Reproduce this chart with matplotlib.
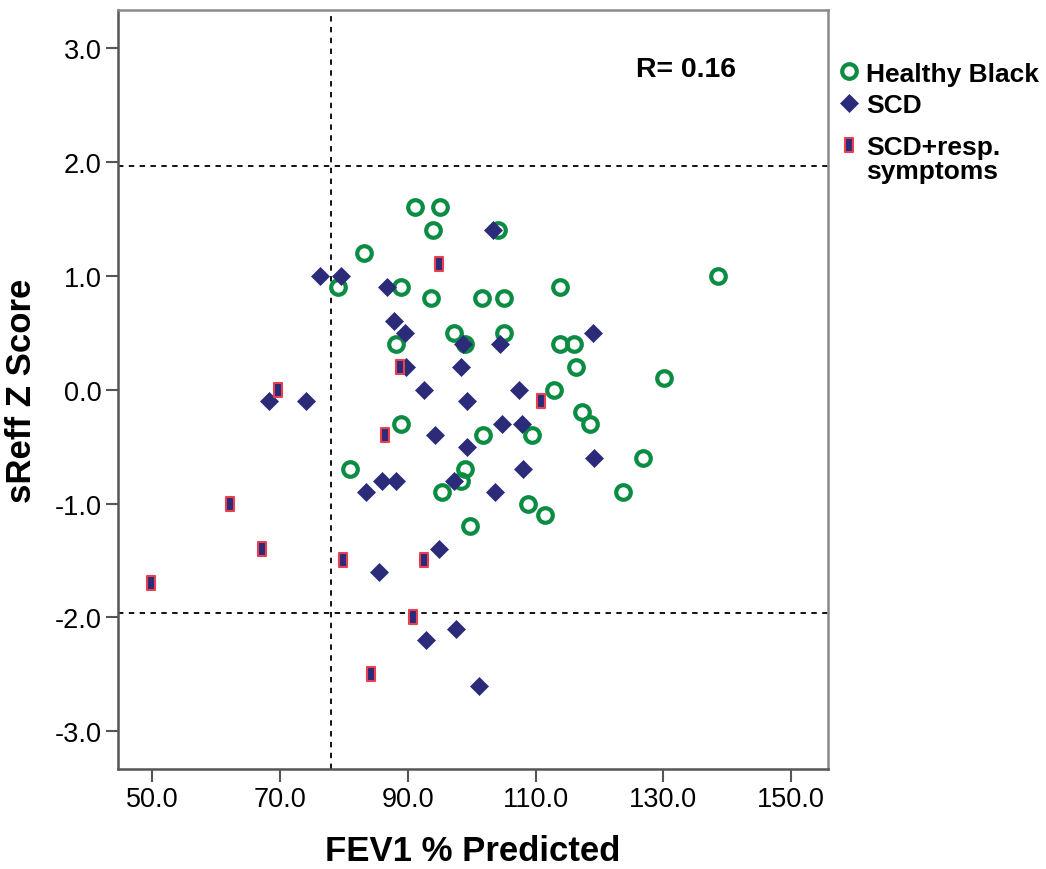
import numpy as np
import matplotlib
matplotlib.use('Agg')
import matplotlib.pyplot as plt
from matplotlib.path import Path
from matplotlib.lines import Line2D

plt.rcParams['font.family'] = ['Liberation Sans', 'DejaVu Sans']

# Healthy Black
hb_fev1 = [91.1, 95.0, 93.9, 104.1, 83.1, 138.6, 79.0, 89.0, 113.8, 93.6,
           101.6, 105.0, 97.3, 105.0, 88.2, 98.9, 113.8, 116.0, 116.3, 130.1,
           112.9, 117.2, 118.5, 88.9, 101.7, 109.4, 126.8, 81.0, 98.9, 98.3,
           95.3, 123.7, 108.8, 111.4, 99.8]
hb_z = [1.6, 1.6, 1.4, 1.4, 1.2, 1.0, 0.9, 0.9, 0.9, 0.8,
        0.8, 0.8, 0.5, 0.5, 0.4, 0.4, 0.4, 0.4, 0.2, 0.1,
        0.0, -0.2, -0.3, -0.3, -0.4, -0.4, -0.6, -0.7, -0.7, -0.8,
        -0.9, -0.9, -1.0, -1.1, -1.2]

# SCD
scd_fev1 = [76.3, 79.5, 86.8, 103.3, 87.9, 89.5, 98.6, 104.5, 119.0, 89.7,
            98.3, 92.5, 107.4, 68.2, 74.1, 99.2, 94.2, 104.7, 107.8, 99.2,
            119.1, 108.0, 83.4, 85.9, 88.2, 97.2, 103.6, 94.8, 85.4, 97.5,
            92.9, 101.1]
scd_z = [1.0, 1.0, 0.9, 1.4, 0.6, 0.5, 0.4, 0.4, 0.5, 0.2,
         0.2, 0.0, 0.0, -0.1, -0.1, -0.1, -0.4, -0.3, -0.3, -0.5,
         -0.6, -0.7, -0.9, -0.8, -0.8, -0.8, -0.9, -1.4, -1.6, -2.1,
         -2.2, -2.6]

# SCD + respiratory symptoms
resp_fev1 = [94.8, 88.7, 69.7, 110.8, 86.4, 62.2, 67.1, 49.8, 79.9, 92.5, 90.8, 84.2]
resp_z = [1.1, 0.2, 0.0, -0.1, -0.4, -1.0, -1.4, -1.7, -1.5, -1.5, -2.0, -2.5]

xticks = [50, 70, 90, 110, 130, 150]
yticks = [-3, -2, -1, 0, 1, 2, 3]

green = '#0a8c43'
navy = '#2b2b7a'
red = '#e8404f'

bar = Path([(-0.3, -0.5), (0.3, -0.5), (0.3, 0.5), (-0.3, 0.5), (-0.3, -0.5)],
           [Path.MOVETO, Path.LINETO, Path.LINETO, Path.LINETO, Path.CLOSEPOLY])

fig = plt.figure(figsize=(10.46, 8.70), dpi=100)
ax = fig.add_axes([0.1128, 0.1149, 0.6788, 0.8724])

ax.axvline(78, color='black', lw=1.3, ls=(0, (3, 3)), zorder=1)
ax.axhline(1.96, color='black', lw=1.3, ls=(0, (3, 3)), zorder=1)
ax.axhline(-1.96, color='black', lw=1.3, ls=(0, (3, 3)), zorder=1)

h1, = ax.plot(hb_fev1, hb_z, 'o', ls='none', ms=10.5, mfc='none', mec=green, mew=3, label='Healthy Black', zorder=3)
h2, = ax.plot(scd_fev1, scd_z, 'D', ls='none', ms=9.5, mfc=navy, mec=navy, mew=0.5, label='SCD', zorder=4)
h3, = ax.plot(resp_fev1, resp_z, marker=bar, ls='none', ms=10.5, mfc=navy, mec=red, mew=1.5,
              label='SCD+resp.', zorder=5)

ax.set_xlim(44.6, 155.8)
ax.set_ylim(-3.33, 3.33)
ax.set_xticks(xticks)
ax.set_xticklabels([f'{v:.1f}' for v in xticks])
ax.set_yticks(yticks)
ax.set_yticklabels([f'{v:.1f}' for v in yticks])
ax.tick_params(direction='out', length=9, width=1.5, color='#555555', labelsize=19.5, pad=3)

for s in ['left', 'bottom']:
    ax.spines[s].set_color('#555555')
    ax.spines[s].set_linewidth(1.8)
for s in ['right', 'top']:
    ax.spines[s].set_color('#8a8a8a')
    ax.spines[s].set_linewidth(1.8)

ax.set_xlabel('FEV1 % Predicted', fontsize=25, fontweight='bold', labelpad=16)
ax.set_ylabel('sReff Z Score', fontsize=25, fontweight='bold', labelpad=12)

ax.text(0.73, 0.922, 'R= 0.16', transform=ax.transAxes, fontsize=20.5, fontweight='bold',
        va='center', ha='left')

prop = {'weight': 'bold', 'size': 19}
leg1 = fig.legend(handles=[h1, h2], loc='center left', bbox_to_anchor=(0.804, 1 - 90.5 / 870),
                  frameon=False, prop=prop, handlelength=0.6, handletextpad=0.35,
                  labelspacing=0.3, borderpad=0, borderaxespad=0)
blank = Line2D([], [], ls='none', marker=None)
leg2 = fig.legend(handles=[h3, blank], labels=['SCD+resp.', 'symptoms'], loc='center left',
                  bbox_to_anchor=(0.804, 1 - 160 / 870), frameon=False, prop=prop,
                  handlelength=0.6, handletextpad=0.35, labelspacing=0.0,
                  borderpad=0, borderaxespad=0)

fig.savefig('out.png', dpi=100)
